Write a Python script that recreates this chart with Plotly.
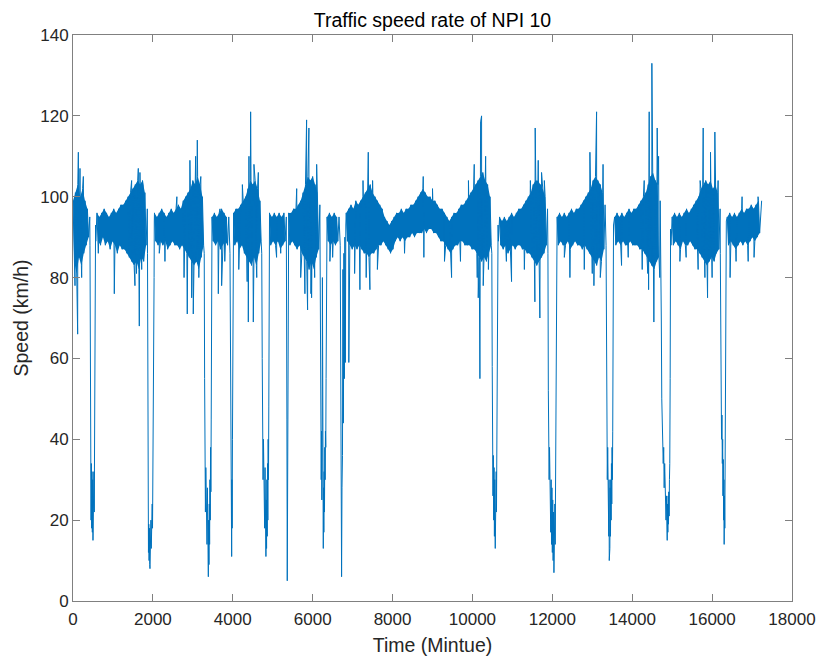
import plotly.graph_objects as go

# ---------------- data ----------------
# The dense band: one upper and one lower reading per 60-minute bin
# (upper at the bin start, lower half a bin later). None = bin lies inside a dip.
BIN = 60

band_hi = [
    # t 0 - 1410
    99, 101, 103, 100, 102, 99, 97, 95, None, None,
    96, 95, 96, 97, 96, 95, 96, 97, 96, 97, 98,
    98, 99, 100,
    # t 1440 - 2850
    101, 102, 103, 104, 103, 104, 101, 97, None, None,
    96, 95, 96, 97, 96, 95, 96, 97, 96, 97, 98, 97, 99, 100,
    # t 2880 - 4290
    101, 102, 104, 103, 105, 103, 100, None, None, None,
    95, 96, 95, 96, 97, 96, 95, 95, None,
    96, 97, 97, 98, 99,
    # t 4320 - 5730
    100, 102, 104, 103, 104, 102, 99, None, None, None,
    96, 95, 96, 95, 96, 95, 96, 95,
    96, 96, 97, 97, 98, 99,
    # t 5760 - 7170
    101, 103, 105, 104, 105, 103, 101, 98, None, None,
    95, 96, 95, 96, 95, 95, None, None,
    96, 97, 98, 97, 99, 98,
    # t 7200 - 8610
    99, 100, 101, 102, 103, 101, 100, 99, 98, 97,
    95, 94, 93, 94,
    95, 96, 96, 97, 96, 97, 97, 98, 98, 99,
    # t 8640 - 10050
    100, 101, 102, 101, 100, 100, 99,
    99, 98, 97, 97, 96, 95, 94, 95,
    96, 96, 97, 98, 98, 99, 100, 101, 102,
    # t 10080 - 11490
    103, 104, 105, 106, 104, 103, 100, None, None, None,
    95, 94, 95, 94, 95, 96, 95, 96,
    97, 97, 98, 99, 100, 101,
    # t 11520 - 12930
    103, 104, 104, 103, 102, 100, 97, None, None, None,
    95, 96, 95, 96, 95, 96, 97, 96, 97,
    97, 98, 99, 100, 101,
    # t 12960 - 14370
    102, 104, 105, 104, 103, 101, 98, None, None, None,
    95, 96, 95, 96, 95, 96, 97, 96, 97,
    97, 98, 99, 100, 101,
    # t 14400 - 15810
    103, 105, 106, 104, 103, 99, None, None, None, None,
    95, 96, 95, 96, 95, 96, 97, 96,
    97, 98, 99, 100, 102, 103,
    # t 15840 - 17220
    104, 103, 104, 102, 103, 101, 97, None, None,
    95, 96, 95, 96, 95, 96, 97, 96, 97, 97, 98, 97, 98, 99, 98,
]

band_lo = [
    # t 30 - 1440
    84, 81, 85, 83, 86, 88, 90, None, None, 89,
    89, 88, 90, 88, 89, 87, 89, 88, 86, 88, 87,
    87, 86, 85,
    # t 1470 - 2880
    84, 83, 84, 82, 85, 84, 88, None, None, None,
    89, 88, 89, 88, 89, 87, 88, 89, 88, 88, 87, 88, 87, 86,
    # t 2910 - 4320
    85, 84, 83, 84, 82, 85, 88, None, None, None,
    89, 88, 89, 87, 88, 89, 88, None, None,
    88, 89, 87, 88, 86,
    # t 4350 - 5760
    85, 84, 83, 85, 83, 86, 89, None, None, None,
    88, 89, 88, 89, 87, 88, 89, None,
    88, 89, 88, 87, 88, 86,
    # t 5790 - 7200
    85, 84, 82, 84, 82, 85, 87, None, None, None,
    89, 88, 89, 88, 89, None, None, None,
    89, 88, 87, 88, 87, 88,
    # t 7230 - 8640
    87, 86, 86, 85, 86, 86, 87, 88, 88, 89,
    88, 87, 86, 87,
    89, 90, 89, 90, 89, 90, 90, 91, 90, 91,
    # t 8670 - 10080
    91, 91, 92, 91, 92, 92, 91,
    91, 90, 89, 89, 88, 87, 86, 87,
    88, 88, 89, 89, 88, 88, 88, 87, 87,
    # t 10110 - 11520
    86, 85, 84, 85, 84, 86, 88, None, None, 89,
    88, 87, 88, 86, 87, 88, 87, 88,
    88, 87, 87, 86, 86, 85,
    # t 11550 - 12960
    84, 83, 84, 85, 86, 88, None, None, None, None,
    88, 89, 88, 88, 89, 87, 88, 89, 88,
    88, 87, 88, 87, 86,
    # t 12990 - 14400
    85, 84, 83, 85, 84, 87, None, None, None, None,
    88, 89, 88, 89, 88, 88, 89, 88, 88,
    88, 87, 87, 86, 85,
    # t 14430 - 15840
    84, 83, 82, 84, 85, None, None, None, None, 88,
    88, 89, 88, 87, 89, 88, 88, 89,
    88, 87, 87, 86, 85, 84,
    # t 15870 - 17250
    83, 84, 85, 84, 86, 87, None, None, None,
    88, 89, 88, 87, 88, 89, 88, 89, 88, 89, 90, 89, 90, 91, None,
]

# isolated excursions above / below the band
spike_t = [50, 117, 134, 175, 217, 259, 634, 1034, 1468, 1551, 1590, 1635, 1660, 1676,
           2302, 2861, 2927, 2971, 3011, 3070, 3112, 3638, 3680, 3721,
           4360, 4389, 4405, 4447, 4514, 4530, 5097, 5806, 5830, 5848, 5873, 5906, 5957, 5973,
           6432, 6905, 7183, 7260, 7392, 7433, 8768, 8784, 9478,
           10045, 10145, 10187, 10204, 10229, 10270, 10979, 11563, 11571, 11647, 11688, 11730,
           12440, 12941, 13000, 13041, 13108, 13733, 14390, 14410, 14425, 14492, 14542, 14625,
           15193, 15777, 15820, 15886, 15960, 16069, 16450, 16903, 17240]
spike_v = [78, 66, 111, 107, 80, 105, 86, 76, 104, 78, 81, 107, 68, 106,
           84, 71, 109, 75, 71, 110, 114, 76, 97, 78,
           79, 69, 110, 121, 69, 108, 85, 76, 109, 119, 72, 117, 76, 75,
           84, 59, 77, 104, 111, 77, 105, 85, 80,
           108, 75, 55, 118.5, 120, 78, 79, 74, 117, 109, 70, 106,
           80, 111, 81, 78, 121, 83, 81, 77, 121, 133, 69, 117,
           84, 117, 80, 75, 111, 116, 80, 84, 99]

# smaller fringe excursions
fringe_t = [1500, 1720, 1755, 2160, 2600, 2780, 3150, 3200, 3800, 4150, 4240, 4600, 4640,
            5200, 5600, 5700, 6050, 6100, 6500, 7050, 7340, 7500, 7620, 8300, 9000, 9300,
            9700, 9900, 10120, 10330, 10400, 10850, 11300, 11450, 11800, 12300, 12800,
            13200, 13270, 13900, 14250, 14300, 14660, 14690, 15350, 15650, 15700, 16000,
            16150, 16600, 16750, 17050, 17150]
fringe_v = [100, 82, 103, 86, 100, 80, 80, 105, 84, 82, 103, 80, 106,
            86, 102, 80, 80, 108, 85, 81, 80, 104, 82, 86, 102, 84,
            84, 104, 80, 110, 82, 84, 82, 104, 104, 85, 82,
            80, 108, 85, 82, 104, 110, 80, 85, 82, 104, 80,
            104, 84, 100, 85, 100]

# the deep drops (time, speed)
dip_t = [425, 436, 444, 452, 460, 468, 476, 484, 492, 500, 508, 516, 524, 532, 540, 548, 556, 565,
         1865, 1873, 1881, 1889, 1897, 1905, 1913, 1921, 1927, 1935, 1943, 1951, 1959, 1967, 1975,
         1983, 1991, 1999, 2007, 2015, 2023, 2030, 2035,
         3285, 3295, 3305, 3315, 3325, 3335, 3345, 3355, 3365, 3375, 3383, 3388, 3396, 3404, 3412,
         3420, 3428, 3436, 3444, 3452, 3460, 3467, 3474,
         3930, 3944, 3955, 3962, 3968, 3972, 3978, 3984, 3992, 4002, 4015,
         4725, 4737, 4748, 4758, 4768, 4778, 4788, 4798, 4808, 4818, 4826, 4830, 4838, 4846, 4854,
         4862, 4870, 4878, 4886, 4894, 4902, 4909, 4916,
         5345, 5355, 5364, 5372, 5385,
         6185, 6195, 6205, 6214, 6222, 6230, 6238, 6244, 6250, 6256, 6262, 6266, 6272, 6280, 6288,
         6296, 6304, 6312, 6320, 6328, 6336, 6343, 6350,
         6690, 6702, 6714, 6724, 6734, 6746, 6758, 6770, 6782, 6794, 6806, 6818, 6830,
         10485, 10495, 10505, 10514, 10523, 10532, 10541, 10550, 10558, 10565, 10571, 10578, 10586,
         10594, 10602, 10610, 10618, 10626, 10634, 10642,
         11890, 11900, 11910, 11920, 11930, 11940, 11950, 11960, 11970, 11980, 11990, 12000, 12010,
         12020, 12030, 12040, 12048, 12056, 12064, 12072, 12080, 12088, 12096, 12104, 12114,
         13345, 13356, 13366, 13376, 13386, 13396, 13405, 13413, 13420, 13425, 13432, 13440, 13448,
         13456, 13464, 13472, 13480, 13488, 13496, 13504, 13512, 13522, 13532,
         14715, 14728, 14740, 14752, 14764, 14776, 14788, 14800, 14812, 14824, 14836, 14846, 14856,
         14866, 14876, 14884, 14892, 14900, 14908, 14916, 14924, 14932, 14940, 14950, 14960,
         16205, 16215, 16226, 16236, 16246, 16256, 16264, 16272, 16280, 16288, 16296, 16302, 16310,
         16318, 16326, 16334, 16342, 16349, 16356]
dip_v = [88, 55, 33, 20, 34, 18, 32, 17, 30, 15, 28, 16, 32, 22, 40, 35, 70, 93,
         86, 45, 20, 12, 19, 10, 18, 9, 8, 17, 11, 20, 13, 21, 14,
         24, 18, 30, 22, 37, 50, 80, 94,
         86, 55, 34, 22, 33, 19, 30, 14, 28, 10, 25, 6, 20, 9, 24,
         14, 30, 20, 38, 27, 45, 70, 93,
         86, 60, 35, 20, 33, 11, 30, 18, 40, 70, 90,
         86, 60, 42, 30, 40, 22, 36, 18, 33, 14, 28, 11, 25, 13, 30,
         16, 34, 20, 40, 30, 48, 65, 92,
         86, 45, 5, 35, 88,
         86, 60, 40, 30, 42, 25, 38, 80, 30, 20, 35, 13, 28, 17, 32,
         22, 38, 30, 42, 38, 55, 75, 93,
         88, 65, 38, 6, 28, 36, 82, 44, 86, 55, 90, 59, 93,
         86, 58, 36, 26, 36, 20, 33, 16, 30, 18, 13, 28, 16,
         32, 22, 36, 30, 40, 68, 93,
         86, 52, 44, 30, 38, 22, 34, 17, 30, 14, 28, 12, 25,
         10, 22, 7, 20, 10, 24, 14, 30, 22, 38, 65, 94,
         88, 62, 45, 30, 38, 22, 34, 16, 30, 10, 26, 13, 28,
         16, 30, 20, 34, 24, 38, 30, 42, 68, 93,
         88, 70, 50, 40, 44, 34, 38, 28, 34, 24, 28, 20, 26,
         17, 15, 24, 17, 26, 19, 27, 21, 30, 34, 55, 92,
         86, 70, 48, 40, 46, 34, 40, 26, 35, 20, 30, 14, 26,
         18, 32, 26, 40, 60, 94]

COLOR = "#0072BD"
FONT = "Liberation Sans, Arial, Helvetica, sans-serif"
AX = "#262626"

fig = go.Figure()

# dense core of the band: area between consecutive upper/lower readings
runs, cur = [], []
for i, (h, l) in enumerate(zip(band_hi, band_lo)):
    if h is not None and l is not None:
        cur.append(i)
    else:
        if len(cur) > 1:
            runs.append(cur)
        cur = []
if len(cur) > 1:
    runs.append(cur)
for run in runs:
    px = [i * BIN for i in run] + [i * BIN + BIN // 2 for i in reversed(run)]
    py = [band_hi[i] for i in run] + [band_lo[i] for i in reversed(run)]
    fig.add_trace(go.Scatter(x=px, y=py, mode="lines", fill="toself", fillcolor=COLOR,
                             line=dict(width=0), hoverinfo="skip"))

# ---------------- the single speed series ----------------
pts = []
for i, (h, l) in enumerate(zip(band_hi, band_lo)):
    if h is not None:
        pts.append((i * BIN, h))
    if l is not None:
        pts.append((i * BIN + BIN // 2, l))
pts += list(zip(spike_t, spike_v))
pts += list(zip(fringe_t, fringe_v))
pts += list(zip(dip_t, dip_v))
pts.sort(key=lambda p: p[0])

fig.add_trace(go.Scatter(x=[p[0] for p in pts], y=[p[1] for p in pts], mode="lines",
                         line=dict(color=COLOR, width=1), hoverinfo="skip"))

axis_common = dict(showline=True, linecolor="#808080", linewidth=1, mirror="ticks",
                   ticks="inside", ticklen=7, tickcolor="#808080", tickwidth=1,
                   showgrid=False, zeroline=False, automargin=False,
                   tickfont=dict(family=FONT, size=17, color=AX))

fig.update_layout(
    width=819, height=659,
    margin=dict(l=73, r=27, t=35, b=58),
    paper_bgcolor="white", plot_bgcolor="white",
    showlegend=False,
    title=dict(text="Traffic speed rate of NPI 10", x=0.5, xref="paper",
               y=1 - 20 / 659, yref="container", yanchor="middle", xanchor="center",
               font=dict(family=FONT, size=19.5, color="#000000")),
    xaxis=dict(range=[0, 18000], dtick=2000, tick0=0, tickformat="d", ticklabelstandoff=3,
               title=dict(text="Time (Mintue)", font=dict(family=FONT, size=19.5, color=AX), standoff=9),
               **axis_common),
    yaxis=dict(range=[0, 140], dtick=20, tick0=0,
               title=dict(text="Speed (km/h)", font=dict(family=FONT, size=19.5, color=AX), standoff=6),
               **axis_common),
)

fig.write_html("out.html")
